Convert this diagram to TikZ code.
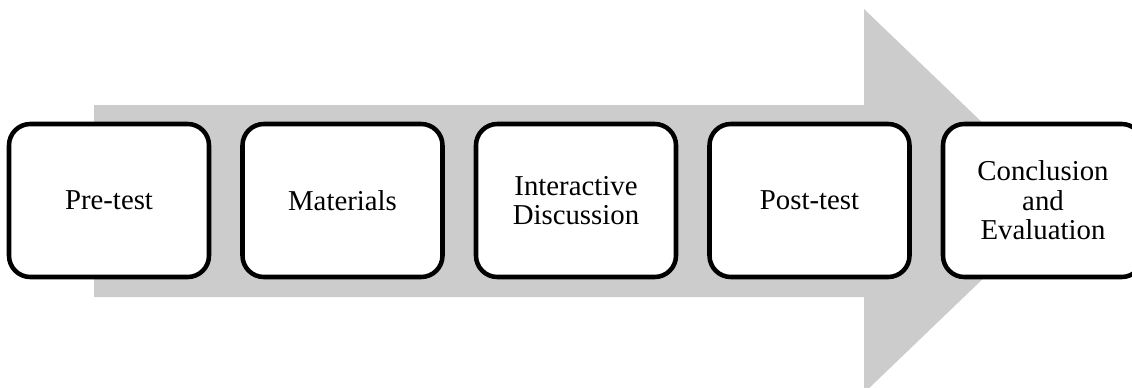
\documentclass[tikz,border=0pt]{standalone}
\usepackage{fontspec}
\setmainfont{Liberation Serif}
\definecolor{arrowgray}{RGB}{204,204,204}
\tikzset{every picture/.style={line width=0.75pt}}
\tikzset{stagebox/.style={draw=black, fill=white, line width=3.4pt, rounded corners=16pt,
  minimum width=150pt, minimum height=114.75pt, align=center, inner sep=0.75pt,
  font=\fontsize{21.6}{22.2}\selectfont}}

\begin{document}
\begin{tikzpicture}[x=0.75pt,y=0.75pt,yscale=-1,xscale=1]
	\useasboundingbox (0,0) rectangle (1132,387);
	
	%Shape: Right Arrow [id:backarrow]
	\fill [arrowgray] (94,105) -- (864,105) -- (864,9) -- (1064,201) -- (864,393) -- (864,297) -- (94,297) -- cycle ;
	
	%Stages
	\node [stagebox] (pretest) at (109,200.5) {Pre-test};
	\node [stagebox] (materials) at (342.5,200.5) {Materials};
	\node [stagebox] (discussion) at (576,200.5) {Interactive\\Discussion};
	\node [stagebox] (posttest) at (809.5,200.5) {Post-test};
	\node [stagebox] (conclusion) at (1043,200.5) {Conclusion\\and\\Evaluation};
\end{tikzpicture}
\end{document}
